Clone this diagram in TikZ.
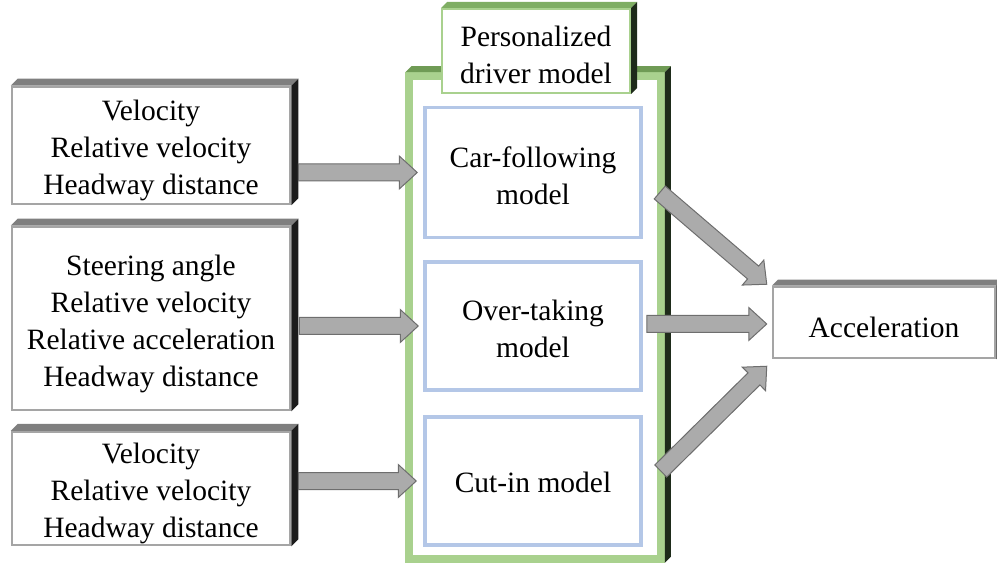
\documentclass[tikz,border=0pt]{standalone}
\usepackage{fontspec}
\setmainfont{Liberation Serif}
\usetikzlibrary{calc}

\definecolor{boxgray}{HTML}{A5A5A5}
\definecolor{topgray}{HTML}{7F7F7F}
\definecolor{sideblack}{HTML}{1C1C1C}
\definecolor{framegreen}{HTML}{A9D18E}
\definecolor{topgreen}{HTML}{6F9B55}
\definecolor{titlegreen}{HTML}{7FAE63}
\definecolor{sidegreen}{HTML}{1E2B1A}
\definecolor{modelblue}{HTML}{B4C7E7}
\definecolor{arrowfill}{HTML}{ABABAB}
\definecolor{arrowedge}{HTML}{6E6E6E}

% top and right face of a raised box
\newcommand\bevel[4]{%
  \fill[#2] (#1.north west) -- ++(#4,-#4) -- ([shift={(#4,-#4)}]#1.north east) -- (#1.north east) -- cycle;
  \fill[#3] (#1.north east) -- ++(#4,-#4) -- ([shift={(#4,-#4)}]#1.south east) -- (#1.south east) -- cycle;}

% fat gray arrow from #1 to #2
\newcommand\blockarrow[2]{%
  \coordinate (h) at ($(#2)!18pt!(#1)$);
  \draw[blockarrow] ($(#1)!8.5pt!90:(#2)$) -- ($(h)!8.5pt!-90:(#1)$) -- ($(h)!16.5pt!-90:(#1)$)
    -- (#2) -- ($(h)!16.5pt!90:(#1)$) -- ($(h)!8.5pt!90:(#1)$) -- ($(#1)!8.5pt!-90:(#2)$) -- cycle;}

\begin{document}
\begin{tikzpicture}[x=1pt,y=-1pt,font=\fontsize{29.5}{37}\selectfont,
                    inbox/.style={draw=boxgray,line width=2.5,fill=white,minimum width=278,inner sep=0},
                    model/.style={draw=modelblue,line width=3.5,fill=white,minimum width=216,inner sep=0},
                    txt/.style={align=center,inner sep=0,yshift=#1},
                    blockarrow/.style={fill=arrowfill,draw=arrowedge,line width=1,line join=miter}]
  \useasboundingbox (0,0) rectangle (997,564);

  % inputs
  \node[inbox,minimum height=117,label={[txt=-5pt]center:{Velocity\\Relative velocity\\Headway distance}}] (in1) at (151,145.5) {};
  \node[inbox,minimum height=183,label={[txt=-5pt]center:{Steering angle\\Relative velocity\\Relative acceleration\\Headway distance}}] (in2) at (151,318.5) {};
  \node[inbox,minimum height=113,label={[txt=-5pt]center:{Velocity\\Relative velocity\\Headway distance}}] (in3) at (151,488.5) {};
  \foreach \n in {in1,in2,in3} {\bevel{\n}{topgray}{sideblack}{7}}

  % driver model
  \node[draw=framegreen,line width=7.5,minimum width=252,minimum height=483] (frame) at (535,317.5) {};
  \bevel{frame}{topgreen}{sidegreen}{6}
  \node[draw=framegreen,line width=2,fill=white,minimum width=188,minimum height=84,inner sep=0,
        label={[txt=-4pt]center:{Personalized\\driver model}}] (title) at (536,51) {};
  \bevel{title}{titlegreen}{sidegreen}{6}

  \node[model,minimum height=130,label={[txt=-3pt]center:{Car-following\\model}}] (cf) at (533,172.5) {};
  \node[model,minimum height=128,label={[txt=-3pt]center:{Over-taking\\model}}] (ot) at (533,326) {};
  \node[model,minimum height=128,label={[txt=-1pt]center:{Cut-in model}}] (ci) at (533,481) {};

  % output
  \node[inbox,minimum width=222,minimum height=71,label={[txt=-5pt]center:{Acceleration}}] (acc) at (884,322.5) {};
  \bevel{acc}{topgray}{sideblack}{6}

  % arrows
  \coordinate (t1) at ($(in1.east |- cf.west)+(7,0)$);
  \coordinate (e1) at ($(cf.west)+(-6,0)$);
  \coordinate (t2) at ($(in2.east |- ot.west)+(8,0)$);
  \coordinate (e2) at ($(ot.west)+(-5,0)$);
  \coordinate (t3) at ($(in3.east |- ci.west)+(7,0)$);
  \coordinate (e3) at ($(ci.west)+(-7,0)$);
  \blockarrow{t1}{e1}
  \blockarrow{t2}{e2}
  \blockarrow{t3}{e3}

  \coordinate (u1) at ($(cf.east)+(17,20)$);
  \coordinate (v1) at ($(acc.north west)+(-5,-1.5)$);
  \coordinate (u2) at ($(ot.east)+(4,-2)$);
  \coordinate (v2) at ($(acc.west |- u2)+(-5,0)$);
  \coordinate (u3) at ($(ci.east)+(18,-10)$);
  \coordinate (v3) at ($(acc.south west)+(-5,7)$);
  \blockarrow{u1}{v1}
  \blockarrow{u2}{v2}
  \blockarrow{u3}{v3}
\end{tikzpicture}
\end{document}
